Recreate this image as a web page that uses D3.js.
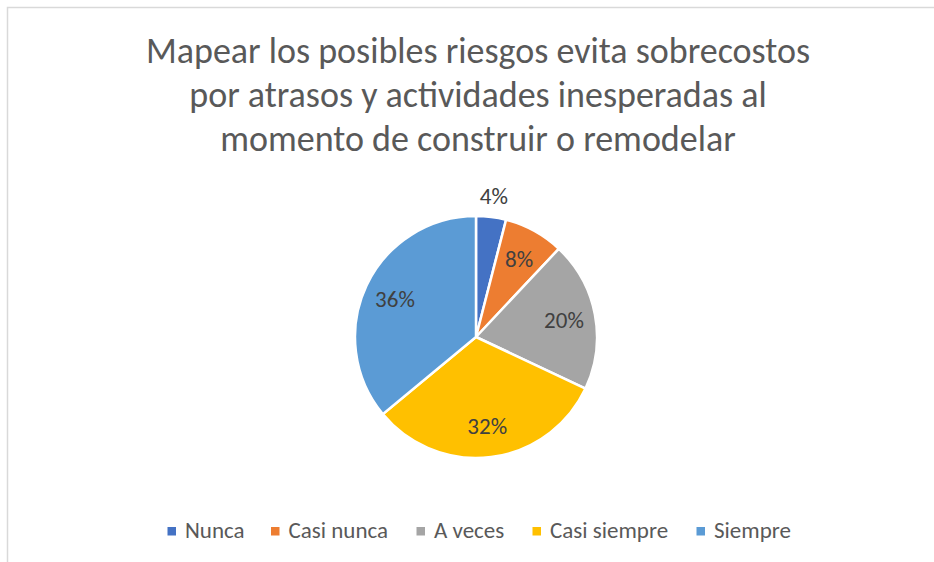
<!DOCTYPE html>
<html lang="es">
<head>
    <meta charset="UTF-8">
    <title>Mapear los posibles riesgos</title>
    <script src="https://d3js.org/d3.v7.min.js"></script>
    <style>
        body { margin: 0; background: #fff; }
        text { font-family: Calibri, Carlito, "Open Sans", sans-serif; }
    </style>
</head>
<body>
    <svg width="934" height="562"></svg>
    <script>
        const categories = ["Nunca", "Casi nunca", "A veces", "Casi siempre", "Siempre"];
        const values = [4, 8, 20, 32, 36];
        const colors = ["#4472C4", "#ED7D31", "#A5A5A5", "#FFC000", "#5B9BD5"];
        const titleLines = [
            "Mapear los posibles riesgos evita sobrecostos",
            "por atrasos y actividades inesperadas al",
            "momento de construir o remodelar"
        ];

        const data = categories.map((c, i) => ({ cat: c, val: values[i] }));
        const svg = d3.select("svg");

        // chart border (runs off right and bottom like the source)
        svg.append("rect")
            .attr("x", 7.5).attr("y", 7.5)
            .attr("width", 940).attr("height", 570)
            .attr("fill", "#fff")
            .attr("stroke", "#d9d9d9")
            .attr("stroke-width", 1.5);

        svg.append("g").selectAll("text")
            .data(titleLines)
            .join("text")
            .attr("x", 478)
            .attr("y", (d, i) => 63 + i * 44)
            .attr("text-anchor", "middle")
            .attr("font-size", 36)
            .attr("fill", "#595959")
            .text(d => d);

        const cx = 476, cy = 337, r = 121;
        const pie = d3.pie().value(d => d.val).sort(null);
        const arc = d3.arc().innerRadius(0).outerRadius(r);
        const inner = d3.arc().innerRadius(r * 0.74).outerRadius(r * 0.74);
        const outer = d3.arc().innerRadius(r + 21).outerRadius(r + 21);

        const g = svg.append("g").attr("transform", `translate(${cx},${cy})`);
        const arcs = pie(data);

        g.selectAll("path")
            .data(arcs)
            .join("path")
            .attr("d", arc)
            .attr("fill", (d, i) => colors[i])
            .attr("stroke", "#fff")
            .attr("stroke-width", 2.5);

        g.selectAll(".lbl")
            .data(arcs)
            .join("text")
            .attr("class", "lbl")
            .attr("transform", d => `translate(${(d.data.val < 5 ? outer : inner).centroid(d)})`)
            .attr("text-anchor", "middle")
            .attr("dy", "0.35em")
            .attr("font-size", 23)
            .attr("fill", "#404040")
            .text(d => d.data.val + "%");

        // legend
        const legendX = [185, 288.5, 434, 550, 714];
        const lg = svg.append("g").selectAll("g")
            .data(data)
            .join("g")
            .attr("transform", (d, i) => `translate(${legendX[i]},538)`);
        lg.append("rect")
            .attr("x", -17.5).attr("y", -11)
            .attr("width", 8.5).attr("height", 8.5)
            .attr("fill", (d, i) => colors[i]);
        lg.append("text")
            .attr("x", 0)
            .attr("font-size", 23)
            .attr("fill", "#595959")
            .text(d => d.cat);
    </script>
</body>
</html>
